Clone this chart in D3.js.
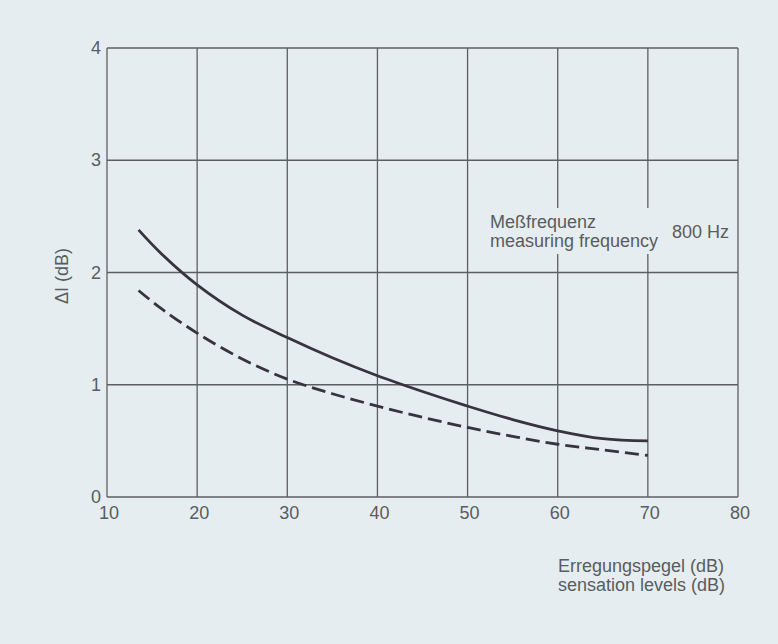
<!DOCTYPE html>
<html>
<head>
<meta charset="utf-8">
<script src="https://cdn.jsdelivr.net/npm/d3@7"></script>
<style>
  html, body { margin: 0; padding: 0; background: #e5edf1; }
  svg { display: block; font-family: "Liberation Sans", Arial, sans-serif; }
</style>
</head>
<body>
<div id="chart"></div>
<script>
// sensation level (dB) vs. ΔI (dB), 800 Hz
const xTicks = [10, 20, 30, 40, 50, 60, 70, 80];
const yTicks = [0, 1, 2, 3, 4];

const solidLevels = [13.5, 16, 20, 25, 30, 35, 40, 45, 50, 55, 60, 65, 70];
const solidValues = [2.38, 2.17, 1.89, 1.62, 1.42, 1.24, 1.08, 0.94, 0.81, 0.69, 0.59, 0.52, 0.5];

const dashedLevels = [13.5, 16, 20, 25, 30, 35, 40, 45, 50, 55, 60, 65, 70];
const dashedValues = [1.84, 1.68, 1.46, 1.23, 1.05, 0.92, 0.81, 0.71, 0.62, 0.54, 0.47, 0.42, 0.37];

const width = 778;
const height = 644;
const margin = { top: 48, right: 40, bottom: 147, left: 107 };

const svg = d3.select('#chart')
    .append('svg')
    .attr('width', width)
    .attr('height', height);

const x = d3.scaleLinear()
    .domain([10, 80])
    .range([margin.left, width - margin.right]);

const y = d3.scaleLinear()
    .domain([0, 4])
    .range([height - margin.bottom, margin.top]);

const bg = '#e5edf1';
const gridColor = '#5c5f62';
const textColor = '#595c60';
const fontSize = '18px';

// grid
svg.append('g')
    .selectAll('line')
    .data(xTicks)
    .join('line')
    .attr('x1', d => x(d))
    .attr('x2', d => x(d))
    .attr('y1', y(0))
    .attr('y2', y(4))
    .attr('stroke', gridColor)
    .attr('stroke-width', 1.3);

svg.append('g')
    .selectAll('line')
    .data(yTicks)
    .join('line')
    .attr('x1', x(10))
    .attr('x2', x(80))
    .attr('y1', d => y(d))
    .attr('y2', d => y(d))
    .attr('stroke', gridColor)
    .attr('stroke-width', 1.3);

// tick labels
svg.append('g')
    .selectAll('text')
    .data(xTicks)
    .join('text')
    .attr('x', d => x(d) + 2)
    .attr('y', y(0) + 22)
    .attr('text-anchor', 'middle')
    .attr('font-size', '18px')
    .attr('fill', textColor)
    .text(d => d);

svg.append('g')
    .selectAll('text')
    .data(yTicks)
    .join('text')
    .attr('x', x(10) - 6)
    .attr('y', d => y(d) + 6)
    .attr('text-anchor', 'end')
    .attr('font-size', '18px')
    .attr('fill', textColor)
    .text(d => d);

// curves
const line = d3.line()
    .x(d => x(d[0]))
    .y(d => y(d[1]))
    .curve(d3.curveCatmullRom);

svg.append('path')
    .datum(solidLevels.map((v, i) => [v, solidValues[i]]))
    .attr('d', line)
    .attr('fill', 'none')
    .attr('stroke', '#38333c')
    .attr('stroke-width', 2.8);

svg.append('path')
    .datum(dashedLevels.map((v, i) => [v, dashedValues[i]]))
    .attr('d', line)
    .attr('fill', 'none')
    .attr('stroke', '#38333c')
    .attr('stroke-width', 2.8)
    .attr('stroke-dasharray', '14,6');

// y-axis label
svg.append('text')
    .attr('transform', `translate(68,276) rotate(-90)`)
    .attr('text-anchor', 'middle')
    .attr('font-size', fontSize)
    .attr('fill', textColor)
    .text('ΔI (dB)');

// x-axis label
const xLabel = svg.append('text')
    .attr('font-size', fontSize)
    .attr('fill', textColor);
xLabel.append('tspan').attr('x', 558).attr('y', 572).text('Erregungspegel (dB)');
xLabel.append('tspan').attr('x', 558).attr('y', 591).text('sensation levels (dB)');

// annotation, on a plain patch that hides the grid behind it
svg.append('rect')
    .attr('x', 487)
    .attr('y', 208)
    .attr('width', x(80) - 488)
    .attr('height', 46)
    .attr('fill', bg);

const note = svg.append('text')
    .attr('font-size', fontSize)
    .attr('fill', textColor);
note.append('tspan').attr('x', 490).attr('y', 228).text('Meßfrequenz');
note.append('tspan').attr('x', 490).attr('y', 247).text('measuring frequency');

svg.append('text')
    .attr('x', 672)
    .attr('y', 238)
    .attr('font-size', fontSize)
    .attr('fill', textColor)
    .text('800 Hz');
</script>
</body>
</html>
